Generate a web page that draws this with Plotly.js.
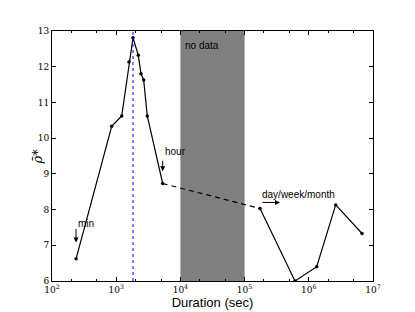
<!DOCTYPE html>
<html><head><meta charset="utf-8">
<script src="https://cdn.plot.ly/plotly-3.0.1.min.js"></script>
<style>html,body{margin:0;padding:0;background:#fff}#c{width:415px;height:312px}</style>
</head><body><div id="c"></div>
<script>
// Short-duration series (seconds, rho*)
const durShort = [237, 851, 1219, 1582, 1827, 2209, 2432, 2679, 3049, 5297];
const rhoShort = [6.62, 10.33, 10.62, 12.13, 12.81, 12.32, 11.80, 11.63, 10.62, 8.73];
// Long-duration series
const durLong = [173800, 609500, 1328000, 2624000, 6745000];
const rhoLong = [8.03, 6.00, 6.40, 8.13, 7.33];
// Peak marker and no-data band
const peakDur = 1827;
const noDataBand = [1e4, 1e5];
// Axis ticks
const xTickVals = [1e2, 1e3, 1e4, 1e5, 1e6, 1e7];
const xTickText = ['10<sup>2</sup>', '10<sup>3</sup>', '10<sup>4</sup>', '10<sup>5</sup>', '10<sup>6</sup>', '10<sup>7</sup>'];
const yTickVals = [6, 7, 8, 9, 10, 11, 12, 13];

const L = Math.log10;
const serif = 'DejaVu Serif, serif';
const sans = 'Liberation Sans, Arial, sans-serif';

const traces = [
  {x: durShort, y: rhoShort, mode: 'lines+markers', line: {color: '#000', width: 1.2},
   marker: {color: '#000', size: 3.5}, hoverinfo: 'none'},
  {x: [durShort[durShort.length-1], durLong[0]], y: [rhoShort[rhoShort.length-1], rhoLong[0]],
   mode: 'lines', line: {color: '#000', width: 1.2, dash: '5px,4px'}, hoverinfo: 'none'},
  {x: durLong, y: rhoLong, mode: 'lines+markers', line: {color: '#000', width: 1.2},
   marker: {color: '#000', size: 3.5}, hoverinfo: 'none'}
];

const arrow = (x, y, ax, ay) => ({x: x, y: y, ax: ax, ay: ay, xref: 'x', yref: 'y', axref: 'x', ayref: 'y',
  text: '', showarrow: true, arrowhead: 2, arrowsize: 1, arrowwidth: 1, arrowcolor: '#000'});
const label = (x, y, t) => ({x: x, y: y, xref: 'x', yref: 'y', text: t, showarrow: false,
  xanchor: 'left', yanchor: 'middle', font: {family: sans, size: 10, color: '#000'}});

const layout = {
  width: 415, height: 312,
  margin: {l: 52, r: 42, t: 31, b: 31},
  paper_bgcolor: '#fff', plot_bgcolor: '#fff',
  showlegend: false,
  xaxis: {type: 'log', range: [2, 7], tickvals: xTickVals, ticktext: xTickText,
    ticks: 'inside', ticklen: 4, tickwidth: 1, tickcolor: '#000',
    minor: {ticks: 'inside', ticklen: 2, tickcolor: '#000', showgrid: false},
    showline: true, linecolor: '#000', linewidth: 1, mirror: 'ticks',
    showgrid: false, zeroline: false,
    tickfont: {family: serif, size: 9, color: '#000'},
    title: {text: 'Duration (sec)', font: {family: sans, size: 13, color: '#000'}, standoff: 2}},
  yaxis: {range: [6, 13], tickvals: yTickVals,
    ticks: 'inside', ticklen: 4, tickwidth: 1, tickcolor: '#000',
    showline: true, linecolor: '#000', linewidth: 1, mirror: 'ticks',
    showgrid: false, zeroline: false,
    tickfont: {family: serif, size: 9, color: '#000'}},
  shapes: [
    {type: 'rect', xref: 'x', yref: 'paper', x0: noDataBand[0], x1: noDataBand[1], y0: 0, y1: 1,
     fillcolor: '#808080', line: {width: 0}, layer: 'below'},
    {type: 'line', xref: 'x', yref: 'paper', x0: peakDur, x1: peakDur, y0: 0, y1: 1,
     line: {color: '#0000ff', width: 1, dash: 'dot'}}
  ],
  annotations: [
    label(L(237), 7.61, 'min'),
    arrow(L(237), 7.08, L(237), 7.50),
    label(L(5297), 9.62, 'hour'),
    arrow(L(5297), 9.07, L(5297), 9.41),
    label(L(173800), 8.42, 'day/week/month'),
    arrow(5.551, 8.20, 5.255, 8.20),
    label(4.04, 12.6, 'no data'),
    {x: -0.075, y: 0.5, xref: 'paper', yref: 'paper', text: '<i>ρ̄*</i>', showarrow: false,
     textangle: -90, font: {family: serif, size: 13, color: '#000'}}
  ]
};

Plotly.newPlot('c', traces, layout, {staticPlot: true, displayModeBar: false});
</script></body></html>
